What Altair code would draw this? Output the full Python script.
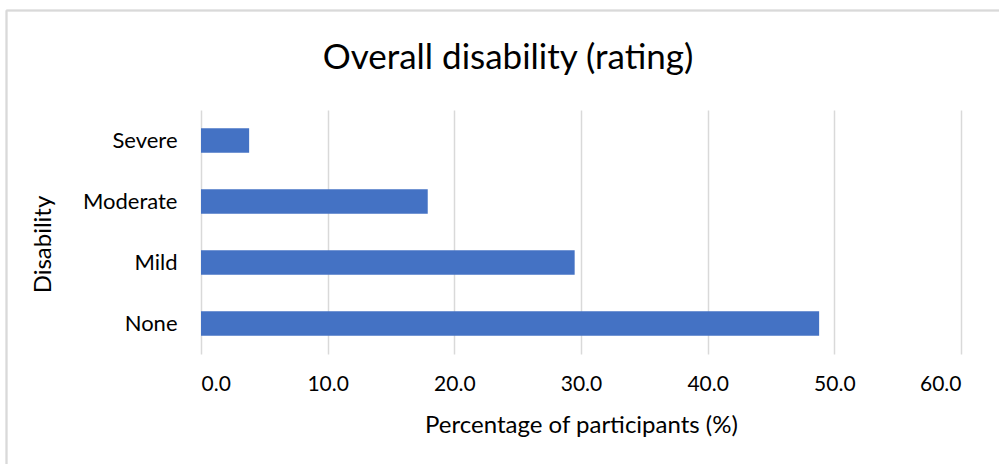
import altair as alt
import pandas as pd

# Share of participants in each overall disability rating
ratings = ["Severe", "Moderate", "Mild", "None"]
percentages = [3.8, 17.9, 29.5, 48.8]

x_ticks = [0, 10, 20, 30, 40, 50, 60]

chart_title = "Overall disability (rating)"

df = pd.DataFrame({"rating": ratings, "pct": percentages})

FONT = "Lato"
GRID = "#d9d9d9"
BAR = "#4472C4"

PLOT_W, PLOT_H = 760, 244
PAD = {"left": 201, "top": 110, "right": 38, "bottom": 110}

bars = alt.Chart(df).mark_bar(color=BAR).encode(
    x=alt.X(
        "pct:Q",
        scale=alt.Scale(domain=[0, 60], nice=False),
        axis=alt.Axis(
            values=x_ticks,
            format=".1f",
            title="Percentage of participants (%)",
            grid=True,
            gridColor=GRID,
            gridWidth=1.5,
            domain=False,
            ticks=False,
            labelFont=FONT,
            labelFontSize=21,
            labelColor="#000000",
            labelPadding=19,
            titleFont=FONT,
            titleFontSize=24,
            titleFontWeight="normal",
            titleColor="#000000",
            titleBaseline="middle",
            titleY=71,
        ),
    ),
    y=alt.Y(
        "rating:N",
        sort=ratings,
        scale=alt.Scale(paddingInner=0.6, paddingOuter=0.3),
        axis=alt.Axis(
            title="Disability",
            domain=False,
            ticks=False,
            grid=False,
            labelFont=FONT,
            labelFontSize=22,
            labelColor="#000000",
            labelPadding=24,
            titleFont=FONT,
            titleFontSize=24,
            titleFontWeight="normal",
            titleColor="#000000",
            titleAngle=270,
            titleAlign="center",
            titleBaseline="middle",
            titleX=-158,
            titleY=134,
        ),
    ),
)

# Chart heading, centred over the figure frame
heading = alt.Chart(pd.DataFrame({"t": [chart_title]})).mark_text(
    font=FONT, fontSize=35, color="#000000", align="center", baseline="middle"
).encode(text="t:N", x=alt.value(307), y=alt.value(-52))

# Light frame around the whole figure (left and top edges are visible)
frame_left = alt.Chart(df).mark_rule(color=GRID, strokeWidth=1.5).encode(
    x=alt.value(-194.5), y=alt.value(-99.5), y2=alt.value(PLOT_H + PAD["bottom"] + 5)
)
frame_top = alt.Chart(df).mark_rule(color=GRID, strokeWidth=1.5).encode(
    x=alt.value(-194.5), x2=alt.value(PLOT_W + PAD["right"] + 5), y=alt.value(-99.5)
)

chart = (
    alt.layer(frame_left, frame_top, bars, heading)
    .properties(
        width=PLOT_W,
        height=PLOT_H,
        autosize=alt.AutoSizeParams(type="none"),
        padding=PAD,
        background="#ffffff",
    )
    .configure_view(stroke=None)
)

chart.save("out.html", embed_options={"renderer": "svg", "actions": False})
